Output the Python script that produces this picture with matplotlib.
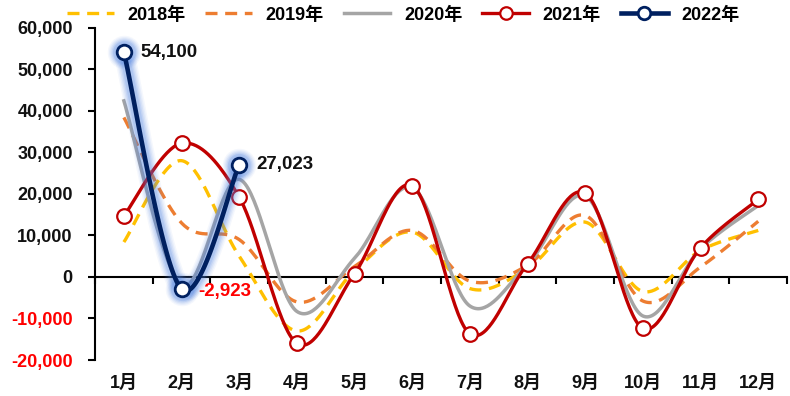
import numpy as np
import matplotlib
matplotlib.use("Agg")
import matplotlib.pyplot as plt
from matplotlib.lines import Line2D
from matplotlib.transforms import blended_transform_factory

plt.rcParams['font.family'] = ['Liberation Sans', 'Noto Sans CJK SC', 'DejaVu Sans']
plt.rcParams['font.weight'] = 'bold'

months = ['1月', '2月', '3月', '4月', '5月', '6月', '7月', '8月', '9月', '10月', '11月', '12月']
y2018 = [8400, 28000, 5000, -13000, 1500, 10800, -2800, 2000, 13200, -3500, 6400, 11200]
y2019 = [38400, 13000, 9000, -6000, 2500, 11200, -1000, 2800, 14800, -5800, 2400, 13400]
y2020 = [42400, -2000, 23500, -8300, 4500, 21500, -7000, 3000, 19500, -9400, 6800, 17200]
y2021 = [14700, 32200, 19200, -16000, 800, 22000, -13700, 3200, 20200, -12400, 7050, 18650]
y2022 = [54100, -2923, 27023]
yticks = [-20000, -10000, 0, 10000, 20000, 30000, 40000, 50000, 60000]

C2018 = '#FFC000'
C2019 = '#ED7D31'
C2020 = '#A5A5A5'
C2021 = '#C00000'
C2022 = '#002060'
GLOW = '#4A7FE0'
FS = 13


def smooth_curve(xs, ys, n=40):
    """Bezier smoothing through every point (spreadsheet-style smoothed line)."""
    P = np.column_stack([np.asarray(xs, float), np.asarray(ys, float)])
    out = []
    for i in range(len(P) - 1):
        p0 = P[i - 1] if i > 0 else P[i]
        p1, p2 = P[i], P[i + 1]
        p3 = P[i + 2] if i + 2 < len(P) else P[i + 1]
        c1 = p1 + (p2 - p0) / 6.0
        c2 = p2 - (p3 - p1) / 6.0
        t = np.linspace(0, 1, n)[:, None]
        seg = (1 - t) ** 3 * p1 + 3 * (1 - t) ** 2 * t * c1 + 3 * (1 - t) * t ** 2 * c2 + t ** 3 * p2
        out.append(seg if i == 0 else seg[1:])
    pts = np.vstack(out)
    return pts[:, 0], pts[:, 1]


fig = plt.figure(figsize=(7.9, 3.96), dpi=100)
ax = fig.add_axes([0.1203, 0.0909, 0.876, 0.839])

x = np.arange(1, 13)
x22 = np.arange(1, len(y2022) + 1)

dash = (3.6, 2.3)
sx, sy = smooth_curve(x, y2018)
ax.plot(sx, sy, color=C2018, lw=2.4, dashes=dash, dash_capstyle='butt', zorder=2)
sx, sy = smooth_curve(x, y2019)
ax.plot(sx, sy, color=C2019, lw=2.4, dashes=dash, dash_capstyle='butt', zorder=2)
sx, sy = smooth_curve(x, y2020)
ax.plot(sx, sy, color=C2020, lw=2.5, zorder=3)
sx, sy = smooth_curve(x, y2021)
ax.plot(sx, sy, color=C2021, lw=2.4, zorder=4)
ax.plot(x, y2021, ls='none', marker='o', ms=10.5, mfc='white', mec=C2021, mew=1.6, zorder=5)

# 2022 line with a soft blue glow
sx, sy = smooth_curve(x22, y2022)
for w, a in [(15, 0.06), (13, 0.08), (11, 0.10), (9, 0.13), (7, 0.16)]:
    ax.plot(sx, sy, color=GLOW, lw=w, alpha=a, solid_capstyle='round', zorder=6)
    ax.plot(x22, y2022, ls='none', marker='o', ms=10.5 + w * 0.9, mfc=GLOW, mec='none', alpha=a, zorder=6)
ax.plot(sx, sy, color=C2022, lw=3.3, zorder=7)
ax.plot(x22, y2022, ls='none', marker='o', ms=10.5, mfc='white', mec=C2022, mew=2.0, zorder=8)

# value labels for 2022
ax.annotate(f'{y2022[0]:,}', (x22[0], y2022[0]), xytext=(12, 0), textcoords='offset points',
            ha='left', va='center', fontsize=13.5, fontweight='bold', color='#111111', zorder=9)
ax.annotate(f'{y2022[1]:,}', (x22[1], y2022[1]), xytext=(12, -2), textcoords='offset points',
            ha='left', va='center', fontsize=13.5, fontweight='bold', color='#FF0000', zorder=9)
ax.annotate(f'{y2022[2]:,}', (x22[2], y2022[2]), xytext=(12, 0), textcoords='offset points',
            ha='left', va='center', fontsize=13.5, fontweight='bold', color='#111111', zorder=9)

# axes styling
ax.set_xlim(0.5, 12.5)
ax.set_ylim(yticks[0], yticks[-1])
for s in ['top', 'right']:
    ax.spines[s].set_visible(False)
ax.spines['left'].set_linewidth(1.5)
ax.spines['bottom'].set_linewidth(1.5)
ax.spines['bottom'].set_position(('data', 0))
ax.spines['bottom'].set_zorder(1)

ax.set_yticks(yticks)
ax.set_yticklabels([f'{v:,}' for v in yticks])
for lbl, v in zip(ax.get_yticklabels(), yticks):
    lbl.set_color('#FF0000' if v < 0 else '#111111')
    lbl.set_fontweight('bold')
    lbl.set_fontsize(FS)
ax.tick_params(axis='y', direction='out', length=5, width=1.5, pad=11)

ax.set_xticks(np.arange(0.5, 13, 1.0))
ax.set_xticklabels([])
ax.tick_params(axis='x', direction='out', length=5, width=1.5)

tr = blended_transform_factory(ax.transData, fig.transFigure)
for xi, m in zip(x, months):
    ax.text(xi, 0.033, m, transform=tr, ha='center', va='center',
            fontsize=FS, fontweight='bold', color='#111111')

handles = [
    Line2D([], [], color=C2018, lw=2.4, dashes=dash, dash_capstyle='butt'),
    Line2D([], [], color=C2019, lw=2.4, dashes=dash, dash_capstyle='butt'),
    Line2D([], [], color=C2020, lw=2.5),
    Line2D([], [], color=C2021, lw=2.4, marker='o', ms=9, mfc='white', mec=C2021, mew=1.6),
    Line2D([], [], color=C2022, lw=3.3, marker='o', ms=9, mfc='white', mec=C2022, mew=2.0),
]
labels = ['2018年', '2019年', '2020年', '2021年', '2022年']
fig.legend(handles, labels, loc='center', bbox_to_anchor=(0.51, 0.962), ncol=5, frameon=False,
           prop={'size': FS, 'weight': 'bold'}, handlelength=2.6, handletextpad=0.75,
           columnspacing=1.1, borderpad=0, borderaxespad=0)

fig.savefig('out.png', dpi=100)
